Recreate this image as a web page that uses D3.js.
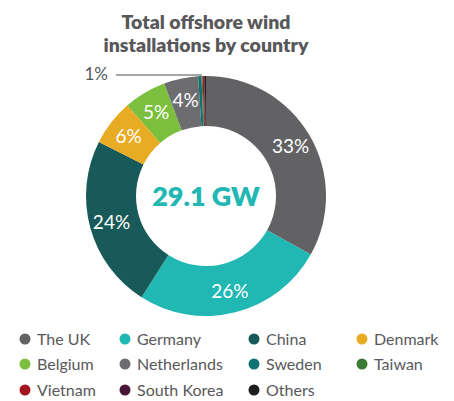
<!DOCTYPE html>
<html><head><meta charset="utf-8">
<script src="https://cdn.jsdelivr.net/npm/d3@7"></script>
<style>body{margin:0;background:#fff}svg{display:block}</style>
</head><body>
<svg id="c" width="454" height="401"></svg>
<script>
const countries = ["The UK","Germany","China","Denmark","Belgium","Netherlands","Sweden","Taiwan","Vietnam","South Korea","Others"];
const shares = [33.1, 25.9, 23.4, 6.2, 5.7, 4.6, 0.45, 0.15, 0.2, 0.1, 0.15];
const labels = ["33%","26%","24%","6%","5%","4%","","","","",""];
const colors = ["#626265","#21b7b3","#175a59","#e8ab24","#7cbf3e","#6d6d70","#0e7371","#3b7a35","#a3161d","#4b1537","#1e1e1e"];
const titleLines = ["Total offshore wind","installations by country"];
const centerText = "29.1 GW";
const smallLabel = "1%";

const svg = d3.select("#c");
const cx = 206, cy = 196, rO = 120, rI = 70;
const font = "Lato, 'Open Sans', sans-serif";

svg.selectAll("text.title").data(titleLines).join("text")
  .attr("x", 206).attr("y", (d,i)=>29+i*23)
  .attr("text-anchor","middle").attr("font-family",font).attr("font-weight",800)
  .attr("font-size",19.5).attr("fill","#58585b").text(d=>d);

const data = countries.map((c,i)=>({c, v:shares[i], l:labels[i], col:colors[i]}));
const pie = d3.pie().value(d=>d.v).sort(null);
const arcs = pie(data);
const arc = d3.arc().innerRadius(rI).outerRadius(rO);
const g = svg.append("g").attr("transform",`translate(${cx},${cy})`);
g.selectAll("path").data(arcs).join("path").attr("d",arc).attr("fill",d=>d.data.col);

const lab = d3.arc().innerRadius(98).outerRadius(98);
g.selectAll("text.pct").data(arcs.filter(d=>d.data.l)).join("text")
  .attr("transform",d=>`translate(${lab.centroid(d)})`)
  .attr("text-anchor","middle").attr("dy","0.36em")
  .attr("font-family",font).attr("font-size",19).attr("fill","#fff").text(d=>d.data.l);

g.append("text").attr("text-anchor","middle").attr("dy","0.36em")
  .attr("font-family",font).attr("font-weight",800).attr("font-size",27)
  .attr("fill","#21b7b3").text(centerText);

// leader line for small slices
svg.append("line").attr("x1",116).attr("x2",cx-4).attr("y1",cy-rO-1).attr("y2",cy-rO-1)
  .attr("stroke","#8a8a8c").attr("stroke-width",1.5);
svg.append("text").attr("x",108).attr("y",cy-rO+4).attr("text-anchor","end")
  .attr("font-family",font).attr("font-size",17).attr("fill","#58585b").text(smallLabel);

const colX = [25,125,254,362], rowY = [339,364,390];
const lg = svg.selectAll("g.lg").data(data).join("g")
  .attr("transform",(d,i)=>`translate(${colX[i%4]},${rowY[Math.floor(i/4)]})`);
lg.append("circle").attr("r",5.5).attr("fill",d=>d.col);
lg.append("text").attr("x",12).attr("dy","0.35em").attr("font-family",font)
  .attr("font-size",16).attr("fill","#58585b").text(d=>d.c);
</script>
</body></html>
